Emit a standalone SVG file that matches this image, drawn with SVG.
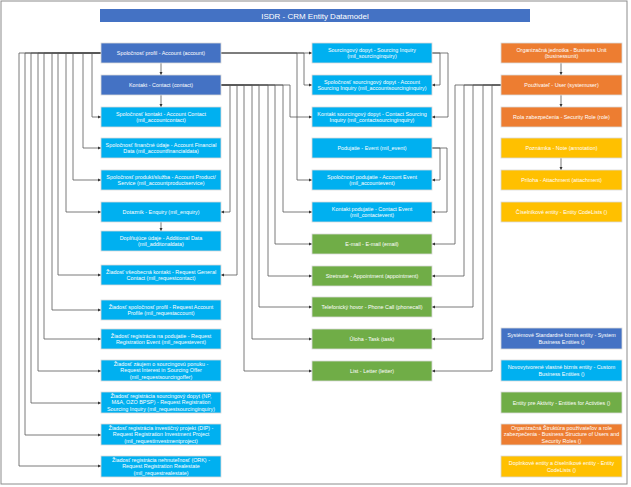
<svg xmlns="http://www.w3.org/2000/svg" width="631" height="487" viewBox="0 0 631 487">
<style>
.b rect{stroke:#d9d9d9;stroke-width:0.8}
.db rect{fill:#4472C4}.lb rect{fill:#00B0F0}.gr rect{fill:#70AD47}.or rect{fill:#ED7D31}.ye rect{fill:#FFC000}
text{font-family:"Liberation Sans",Arial,sans-serif;font-size:5.4px;fill:#fff;text-anchor:middle}
#conn path{fill:none;stroke:#595959;stroke-width:0.8;marker-end:url(#a)}
</style>
<defs><marker id="a" viewBox="0 0 6 6" refX="6" refY="3" markerWidth="4" markerHeight="4" orient="auto"><path d="M0,0L6,3L0,6z" fill="#333"/></marker></defs>
<rect x="1" y="1" width="626" height="483" fill="#fff" stroke="#8c8c8c" stroke-width="1"/>
<g id="title"><rect x="100" y="9" width="430" height="13" fill="#4472C4"/><text x="315" y="18.5" style="font-size:8px">ISDR - CRM Entity Datamodel</text></g>
<g id="conn">
<path d="M161,63V75"/><path d="M161,95V107"/><path d="M161,222V231"/>
<path d="M561,63V75"/><path d="M561,95V107"/><path d="M561,158V170"/>
<path d="M101,53H92V117H101"/><path d="M101,53H83V148H101"/><path d="M101,53H73V180H101"/><path d="M101,53H66V212H101"/>
<path d="M101,53H58V275H101"/><path d="M101,53H52V310H101"/><path d="M101,53H44V339H101"/><path d="M101,53H38V371H101"/>
<path d="M101,53H31V403H101"/><path d="M101,53H25V435H101"/><path d="M101,53H19V466H101"/>
<path d="M221,53H312"/><path d="M221,53H304V85H312"/><path d="M221,53H297V180H312"/>
<path d="M221,85H290V115a2,2 0 0 1 0,0V117H312"/><path d="M221,85H283V212H312"/>
<path d="M221,85H230V212H221"/><path d="M221,85H237V275H221"/>
<path d="M221,85H275V244H312"/><path d="M221,85H268V276H312"/><path d="M221,85H259V307H312"/><path d="M221,85H252V339H312"/><path d="M221,85H244V371H312"/>
<path d="M432,53H448V117H432"/><path d="M432,53H440V85H432"/>
<path d="M432,148H447V212H432"/><path d="M432,148H440V180H432"/>
<path d="M501,85H455V244H432"/><path d="M501,85H464V276H432"/><path d="M501,85H473V307H432"/><path d="M501,85H483V339H432"/><path d="M501,85H492V371H432"/>
</g>
<g id="account" class="b db"><rect x="101" y="43" width="120" height="20"/><text x="161" y="55">Spoločnosť profil - Account (account)</text></g>
<g id="contact" class="b db"><rect x="101" y="75" width="120" height="20"/><text x="161" y="87">Kontakt - Contact (contact)</text></g>
<g id="accountcontact" class="b lb"><rect x="101" y="107" width="120" height="20"/><text x="161" y="115.5">Spoločnosť kontakt - Account Contact<tspan x="161" dy="6.8">(mil_accountcontact)</tspan></text></g>
<g id="accountfinancialdata" class="b lb"><rect x="101" y="138" width="120" height="20"/><text x="161" y="146.5">Spoločnosť finančné údaje - Account Financial<tspan x="161" dy="6.8">Data (mil_accountfinancialdata)</tspan></text></g>
<g id="accountproductservice" class="b lb"><rect x="101" y="170" width="120" height="20"/><text x="161" y="178.5">Spoločnosť produkt/služba - Account Product/<tspan x="161" dy="6.8">Service (mil_accountproductservice)</tspan></text></g>
<g id="enquiry" class="b lb"><rect x="101" y="202" width="120" height="20"/><text x="161" y="214">Dotazník  - Enquiry (mil_enquiry)</text></g>
<g id="additionaldata" class="b lb"><rect x="101" y="231" width="120" height="20"/><text x="161" y="239.5">Doplňujúce údaje - Additional Data<tspan x="161" dy="6.8">(mil_additonaldata)</tspan></text></g>
<g id="requestcontact" class="b lb"><rect x="101" y="265" width="120" height="20"/><text x="161" y="273.5">Žiadosť všeobecná kontakt - Request General<tspan x="161" dy="6.8">Contact (mil_requestcontact)</tspan></text></g>
<g id="requestaccount" class="b lb"><rect x="101" y="300" width="120" height="20"/><text x="161" y="308.5">Žiadosť spoločnosť profil - Request Account<tspan x="161" dy="6.8">Profile (mil_requestaccount)</tspan></text></g>
<g id="requestevent" class="b lb"><rect x="101" y="329" width="120" height="20"/><text x="161" y="337.5">Žiadosť registrácia na podujatie - Request<tspan x="161" dy="6.8">Registration Event (mil_requestevent)</tspan></text></g>
<g id="requestsourcingoffer" class="b lb"><rect x="101" y="360" width="120" height="21"/><text x="161" y="365.5">Žiadosť záujem o sourcingovú ponuku -<tspan x="161" dy="6.8">Request Interest in Sourcing Offer</tspan><tspan x="161" dy="6.8">(mil_requestsourcingoffer)</tspan></text></g>
<g id="requestsourcinginquiry" class="b lb"><rect x="101" y="392" width="120" height="21"/><text x="161" y="397.5">Žiadosť registrácia sourcingový dopyt (NP,<tspan x="161" dy="6.8">M&amp;A, OZO BPSP) - Request Registration</tspan><tspan x="161" dy="6.8">Sourcing Inquiry (mil_requestsourcinginquiry)</tspan></text></g>
<g id="requestinvestmentproject" class="b lb"><rect x="101" y="424" width="120" height="21"/><text x="161" y="429.5">Žiadosť registrácia investičný projekt (DIP) -<tspan x="161" dy="6.8">Request Registration Investment Project</tspan><tspan x="161" dy="6.8">(mil_requestinvestmentproject)</tspan></text></g>
<g id="requestrealestate" class="b lb"><rect x="101" y="456" width="120" height="21"/><text x="161" y="461.5">Žiadosť registrácia nehnuteľnosť (ORK) -<tspan x="161" dy="6.8">Request Registration Realestate</tspan><tspan x="161" dy="6.8">(mil_requestrealestate)</tspan></text></g>
<g id="sourcinginquiry" class="b lb"><rect x="312" y="43" width="120" height="20"/><text x="372" y="51.5">Sourcingový dopyt - Sourcing Inquiry<tspan x="372" dy="6.8">(mil_sourcinginquiry)</tspan></text></g>
<g id="accountsourcinginquiry" class="b lb"><rect x="312" y="75" width="120" height="20"/><text x="372" y="83.5">Spoločnosť sourcingový dopyt - Account<tspan x="372" dy="6.8">Sourcing Inquiry (mil_accountsourcinginquiry)</tspan></text></g>
<g id="contactsourcinginquiry" class="b lb"><rect x="312" y="107" width="120" height="20"/><text x="372" y="115.5">Kontakt sourcingový dopyt - Contact Sourcing<tspan x="372" dy="6.8">Inquiry (mil_contactsourcinginquiry)</tspan></text></g>
<g id="event" class="b lb"><rect x="312" y="138" width="120" height="20"/><text x="372" y="150">Podujatie - Event (mil_event)</text></g>
<g id="accountevent" class="b lb"><rect x="312" y="170" width="120" height="20"/><text x="372" y="178.5">Spoločnosť podujatie - Account Event<tspan x="372" dy="6.8">(mil_accountevent)</tspan></text></g>
<g id="contactevent" class="b lb"><rect x="312" y="202" width="120" height="20"/><text x="372" y="210.5">Kontakt podujatie - Contact Event<tspan x="372" dy="6.8">(mil_contactevent)</tspan></text></g>
<g id="email" class="b gr"><rect x="312" y="234" width="120" height="20"/><text x="372" y="246">E-mail - E-mail (email)</text></g>
<g id="appointment" class="b gr"><rect x="312" y="266" width="120" height="20"/><text x="372" y="278">Stretnutie - Appointment (appointment)</text></g>
<g id="phonecall" class="b gr"><rect x="312" y="297" width="120" height="20"/><text x="372" y="309">Telefonický hovor - Phone Call (phonecall)</text></g>
<g id="task" class="b gr"><rect x="312" y="329" width="120" height="20"/><text x="372" y="341">Úloha - Task (task)</text></g>
<g id="letter" class="b gr"><rect x="312" y="361" width="120" height="20"/><text x="372" y="373">List - Letter (letter)</text></g>
<g id="businessunit" class="b or"><rect x="501" y="43" width="121" height="20"/><text x="561.5" y="51.5">Organizačná jednotka - Business Unit<tspan x="561.5" dy="6.8">(businessunit)</tspan></text></g>
<g id="systemuser" class="b or"><rect x="501" y="75" width="121" height="20"/><text x="561.5" y="87">Používateľ - User (systemuser)</text></g>
<g id="role" class="b or"><rect x="501" y="107" width="121" height="20"/><text x="561.5" y="119">Rola zabezpečenia - Security Role (role)</text></g>
<g id="annotation" class="b ye"><rect x="501" y="138" width="121" height="20"/><text x="561.5" y="150">Poznámka - Note (annotation)</text></g>
<g id="attachment" class="b ye"><rect x="501" y="170" width="121" height="20"/><text x="561.5" y="182">Príloha - Attachment (attachment)</text></g>
<g id="codelists" class="b ye"><rect x="501" y="202" width="121" height="20"/><text x="561.5" y="214">Číselníkové entity - Entity CodeLists ()</text></g>
<g id="legend-system" class="b db"><rect x="501" y="328" width="121" height="21"/><text x="561.5" y="337">Systémové Standardné biznis entity - System<tspan x="561.5" dy="6.8">Business Entities ()</tspan></text></g>
<g id="legend-custom" class="b lb"><rect x="501" y="360" width="121" height="21"/><text x="561.5" y="369">Novovytvorené vlastné biznis entity -  Custom<tspan x="561.5" dy="6.8">Business Entities ()</tspan></text></g>
<g id="legend-activities" class="b gr"><rect x="501" y="392" width="121" height="21"/><text x="561.5" y="404.5">Entity pre Aktivity - Entities for Activties ()</text></g>
<g id="legend-org" class="b or"><rect x="501" y="424" width="121" height="21"/><text x="561.5" y="429.5">Organizačná Štruktúra používateľov a role<tspan x="561.5" dy="6.8">zabezpečenia - Business Structure of Users and</tspan><tspan x="561.5" dy="6.8">Security Roles ()</tspan></text></g>
<g id="legend-codelists" class="b ye"><rect x="501" y="456" width="121" height="21"/><text x="561.5" y="465">Doplnkové entity a číselníkové entity - Entity<tspan x="561.5" dy="6.8">CodeLists ()</tspan></text></g>
</svg>
